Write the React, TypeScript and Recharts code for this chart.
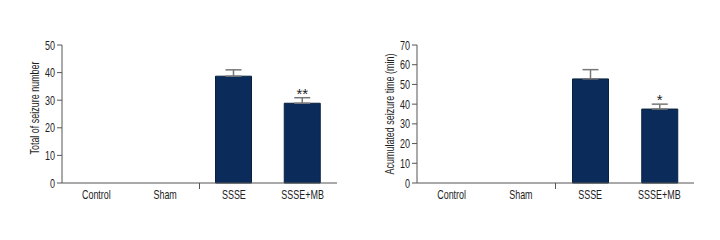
// Two bar panels: seizure count and accumulated seizure time per group.
import { Bar, BarChart, ErrorBar, LabelList, XAxis, YAxis } from "recharts";

const groups = ["Control", "Sham", "SSSE", "SSSE+MB"];
const seizureNumber = [0, 0, 38.7, 28.9];
const seizureNumberSem = [null, null, 2.3, 2.0];
const seizureNumberSig = ["", "", "", "**"];
const seizureTime = [0, 0, 52.8, 37.5];
const seizureTimeSem = [null, null, 4.7, 2.5];
const seizureTimeSig = ["", "", "", "*"];
const numberTicks = [0, 10, 20, 30, 40, 50];
const timeTicks = [0, 10, 20, 30, 40, 50, 60, 70];

// Fuente condensada simulada: Liberation Sans comprimida en horizontal.
const FONT = '"Liberation Sans", Arial, sans-serif';
const SX = 0.69;
const TXT = "#1e1e1e";
const AXIS = "#555";
const BAR = "#0b2c5a";

// Etiqueta de categoria; la marca corta separa Sham de SSSE (borde de banda).
const CatTick = (props: any) => {
  const { x, y, payload, index } = props;
  const half = payload?.offset ?? 0;
  return (
    <g>
      {index === 2 && (
        <line x1={x - half} x2={x - half} y1={y - 7} y2={y - 1} stroke={AXIS} strokeWidth={1} />
      )}
      <text
        transform={`translate(${x},${y}) scale(${SX},1)`}
        dy="0.71em"
        textAnchor="middle"
        fill={TXT}
        fontSize={13}
        fontFamily={FONT}
      >
        {payload.value}
      </text>
    </g>
  );
};

const ValTick = (props: any) => {
  const { x, y, payload } = props;
  return (
    <text
      transform={`translate(${x},${y}) scale(0.72,1)`}
      dy="0.36em"
      textAnchor="end"
      fill={TXT}
      fontSize={12.5}
      fontFamily={FONT}
    >
      {payload.value}
    </text>
  );
};

const AxisTitle = (props: any) => {
  const { viewBox, text, dx = 0, dy = 0 } = props;
  const cx = viewBox.x + viewBox.width / 2 + dx;
  const cy = viewBox.y + viewBox.height / 2 + dy;
  return (
    <text
      transform={`translate(${cx},${cy}) rotate(-90) scale(${SX},1)`}
      dy="0.36em"
      textAnchor="middle"
      fill={TXT}
      fontSize={13}
      fontFamily={FONT}
    >
      {text}
    </text>
  );
};

type PanelProps = {
  values: number[];
  sem: (number | null)[];
  sig: string[];
  ticks: number[];
  label: string;
  axisWidth: number;
  labelDx: number;
  labelDy: number;
  right: number;
  left: number;
};

function Panel({ values, sem, sig, ticks, label, axisWidth, labelDx, labelDy, right, left }: PanelProps) {
  const data = groups.map((g, i) => ({
    group: g,
    value: values[i],
    err: sem[i] == null ? null : [0, sem[i]],
    sig: sig[i],
  }));
  return (
    <div style={{ position: "absolute", left, top: 0 }}>
      <BarChart width={360} height={240} data={data} margin={{ top: 45, right, bottom: 27, left: 0 }}>
        <XAxis
          dataKey="group"
          tick={<CatTick />}
          tickLine={false}
          tickSize={0}
          tickMargin={7}
          height={30}
          axisLine={{ stroke: AXIS }}
          interval={0}
        />
        <YAxis
          domain={[0, ticks[ticks.length - 1]]}
          ticks={ticks}
          interval={0}
          width={axisWidth}
          tickSize={5}
          tickMargin={2}
          tick={<ValTick />}
          tickLine={{ stroke: AXIS }}
          axisLine={{ stroke: AXIS }}
          label={<AxisTitle text={label} dx={labelDx} dy={labelDy} />}
        />
        <Bar dataKey="value" fill={BAR} stroke="#07203f" strokeWidth={1} barSize={36} isAnimationActive={false}>
          <ErrorBar dataKey="err" width={8} stroke="#777" strokeWidth={1.5} direction="y" />
          <LabelList dataKey="sig" position="top" offset={4} fill={TXT} fontSize={15} fontFamily={FONT} />
        </Bar>
      </BarChart>
    </div>
  );
}

export default function App() {
  return (
    <div style={{ position: "absolute", left: 0, top: 0, width: 720, height: 240, background: "#fff" }}>
      <Panel
        values={seizureNumber}
        sem={seizureNumberSem}
        sig={seizureNumberSig}
        ticks={numberTicks}
        label="Total of seizure number"
        axisWidth={62}
        labelDx={3}
        labelDy={-6}
        right={23}
        left={0}
      />
      <Panel
        values={seizureTime}
        sem={seizureTimeSem}
        sig={seizureTimeSig}
        ticks={timeTicks}
        label="Acumulated seizure time (min)"
        axisWidth={57}
        labelDx={1}
        labelDy={0}
        right={26}
        left={360}
      />
    </div>
  );
}
